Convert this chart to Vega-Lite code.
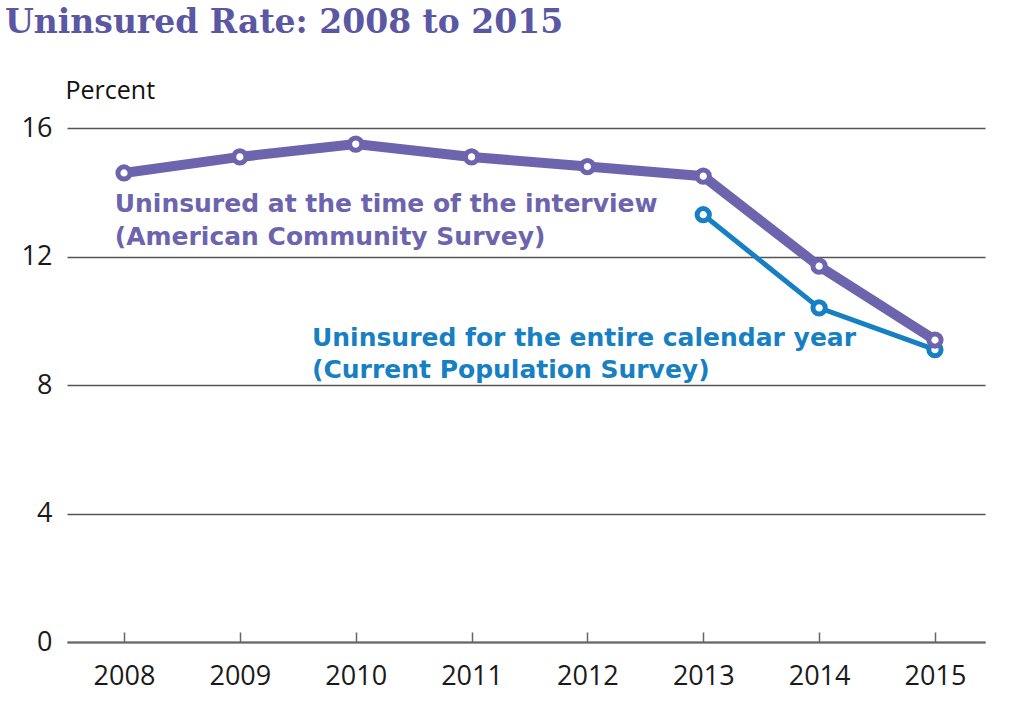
{
  "$schema": "https://vega.github.io/schema/vega-lite/v6.json",
  "width": 918,
  "height": 514,
  "autosize": "none",
  "padding": {"left": 67, "top": 128, "right": 39, "bottom": 72},
  "background": "white",
  "config": {"view": {"stroke": null}},
  "title": {
    "text": "Uninsured Rate: 2008 to 2015",
    "anchor": "start",
    "frame": "group",
    "font": "DejaVu Serif",
    "fontSize": 33,
    "fontWeight": "bold",
    "color": "#5b57a3",
    "dx": -62,
    "offset": 38
  },
  "datasets": {
    "rates": [
      {"series": "CPS", "year": 2013, "value": 13.3},
      {"series": "CPS", "year": 2014, "value": 10.4},
      {"series": "CPS", "year": 2015, "value": 9.1},
      {"series": "ACS", "year": 2008, "value": 14.6},
      {"series": "ACS", "year": 2009, "value": 15.1},
      {"series": "ACS", "year": 2010, "value": 15.5},
      {"series": "ACS", "year": 2011, "value": 15.1},
      {"series": "ACS", "year": 2012, "value": 14.8},
      {"series": "ACS", "year": 2013, "value": 14.5},
      {"series": "ACS", "year": 2014, "value": 11.7},
      {"series": "ACS", "year": 2015, "value": 9.4}
    ],
    "notes": [
      {"series": "ACS", "x": 2007.92, "y": 13.39, "label": "Uninsured at the time of the interview"},
      {"series": "ACS", "x": 2007.92, "y": 12.36, "label": "(American Community Survey)"},
      {"series": "CPS", "x": 2009.623, "y": 9.21, "label": "Uninsured for the entire calendar year"},
      {"series": "CPS", "x": 2009.623, "y": 8.22, "label": "(Current Population Survey)"}
    ]
  },
  "encoding": {
    "x": {
      "field": "year",
      "type": "quantitative",
      "scale": {"domain": [2007.508, 2015.432], "nice": false, "zero": false},
      "axis": {
        "values": [2008, 2009, 2010, 2011, 2012, 2013, 2014, 2015],
        "format": "d",
        "title": null,
        "grid": false,
        "domain": true,
        "domainColor": "#666666",
        "domainWidth": 2,
        "ticks": true,
        "tickColor": "#666666",
        "tickWidth": 1.5,
        "tickSize": -10,
        "labelFont": "Open Sans",
        "labelFontSize": 27,
        "labelColor": "#1a1a1a",
        "labelPadding": 31,
        "labelFlush": false
      }
    },
    "y": {
      "field": "value",
      "type": "quantitative",
      "scale": {"domain": [0, 16], "nice": false},
      "axis": {
        "values": [0, 4, 8, 12, 16],
        "title": "Percent",
        "titleAngle": 0,
        "titleAlign": "left",
        "titleBaseline": "alphabetic",
        "titleX": -2,
        "titleY": -30,
        "titleFont": "Open Sans",
        "titleFontSize": 25,
        "titleFontWeight": "normal",
        "titleColor": "#111111",
        "grid": true,
        "gridColor": "#555555",
        "gridWidth": 1.5,
        "domain": false,
        "ticks": false,
        "labelFont": "Open Sans",
        "labelFontSize": 27,
        "labelColor": "#1a1a1a",
        "labelPadding": 15
      }
    }
  },
  "layer": [
    {
      "data": {"name": "rates"},
      "transform": [{"filter": "datum.series == 'CPS'"}],
      "mark": {"type": "line", "color": "#1780c2", "strokeWidth": 5}
    },
    {
      "data": {"name": "rates"},
      "transform": [{"filter": "datum.series == 'CPS'"}],
      "mark": {"type": "point", "shape": "circle", "filled": true, "fill": "white", "stroke": "#1780c2", "strokeWidth": 5, "size": 150, "opacity": 1}
    },
    {
      "data": {"name": "rates"},
      "transform": [{"filter": "datum.series == 'ACS'"}],
      "mark": {"type": "line", "color": "#6d64ae", "strokeWidth": 10}
    },
    {
      "data": {"name": "rates"},
      "transform": [{"filter": "datum.series == 'ACS'"}],
      "mark": {"type": "point", "shape": "circle", "filled": true, "fill": "white", "stroke": "#6d64ae", "strokeWidth": 5, "size": 150, "opacity": 1}
    },
    {
      "data": {"name": "notes"},
      "mark": {"type": "text", "align": "left", "baseline": "alphabetic", "font": "DejaVu Sans", "fontWeight": "bold", "fontSize": 25},
      "encoding": {
        "x": {"field": "x", "type": "quantitative"},
        "y": {"field": "y", "type": "quantitative"},
        "text": {"field": "label"},
        "color": {
          "field": "series",
          "type": "nominal",
          "scale": {"domain": ["ACS", "CPS"], "range": ["#6d64ae", "#1780c2"]},
          "legend": null
        }
      }
    }
  ]
}
